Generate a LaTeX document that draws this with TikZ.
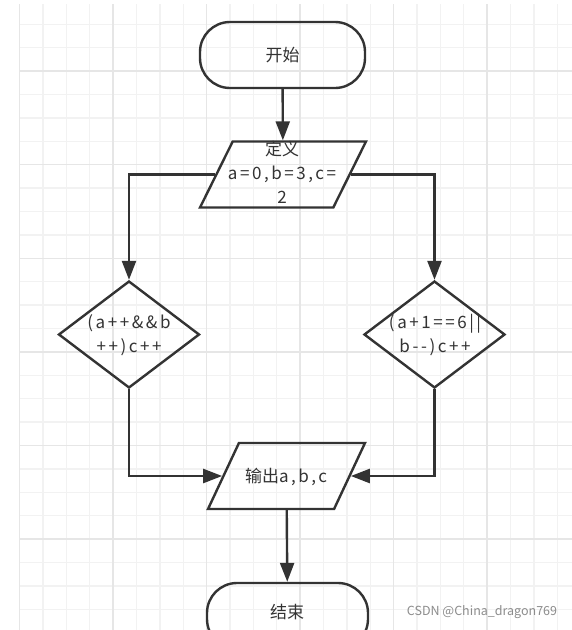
\documentclass[tikz,border=0pt]{standalone}
\usepackage{fontspec}
\newfontfamily\cjk{Noto Sans CJK SC}
\newfontfamily\lat[LetterSpace=15]{Noto Sans CJK SC}
\usetikzlibrary{shapes.geometric,arrows.meta,positioning}
\definecolor{ink}{HTML}{333333}
\definecolor{gridminor}{HTML}{F2F2F2}
\definecolor{gridmajor}{HTML}{E6E6E6}
\definecolor{markgrey}{HTML}{8C8C8C}
\begin{document}
\begin{tikzpicture}[x=1pt, y=-1pt, line width=2.4pt,
  term/.style={draw=ink, rounded corners=30pt, minimum width=165pt, minimum height=66pt},
  io/.style={draw=ink, trapezium, trapezium stretches=true, trapezium left angle=72, trapezium right angle=108, minimum height=66pt},
  cond/.style={draw=ink, diamond, minimum width=141pt, minimum height=107pt, inner sep=0pt},
  txt/.style={text=ink, font=\cjk\fontsize{17}{24}\selectfont, align=center, inner sep=0pt},
  arr/.style={draw=ink, -{Triangle[length=19pt,width=14pt]}}]
  \fill[white] (0,0) rectangle (572,630);
  \useasboundingbox (0,0) rectangle (572,630);
  % 背景网格
  \foreach \i in {0,...,23} \draw[gridminor, line width=1.4pt] (19.6+23.375*\i,4) -- (19.6+23.375*\i,630);
  \foreach \j in {1,...,26} \draw[gridminor, line width=1.4pt] (19.6,0.8+23.4*\j) -- (572,0.8+23.4*\j);
  \foreach \i in {0,4,...,20} \draw[gridmajor, line width=1.4pt] (19.6+23.375*\i,4) -- (19.6+23.375*\i,630);
  \foreach \j in {3,7,...,23} \draw[gridmajor, line width=1.4pt] (19.6,0.8+23.4*\j) -- (572,0.8+23.4*\j);
  % 框
  \node[term] (start) at (282.5,55) {};
  \node[io, minimum width=166pt] (def) at (283,174.5) {};
  \node[cond] (cond1) at (129,334.5) {};
  \node[cond] (cond2) at (434.5,334.5) {};
  \node[io, minimum width=157pt] (out) at (286.5,476) {};
  \node[term, minimum width=161pt] (end) at (287.5,616) {};
  \node[txt] (starttext) at (start) {开始};
  \node[txt] (deftext) at (282,172) {定义\\{\lat a=0,b=3,c=}\\{\lat 2}};
  \node[txt, font=\lat\fontsize{17}{24}\selectfont] (cond1text) at (129,335.5) {(a++\&\&b\\++)c++};
  \node[txt, font=\lat\fontsize{17}{24}\selectfont] (cond2text) at (435,335.5) {(a+1==6||\\b--)c++};
  \node[txt] (outtext) at (286,477) {输出{\lat a,b,c}};
  \node[txt] (endtext) at (287,612) {结束};
  % 连线
  \draw[arr] (start) -- (def);
  \draw[arr] (def.left side) -| (cond1.north);
  \draw[arr] (def.right side) -| (cond2.north);
  \draw[arr] (cond1.south) |- (out.left side);
  \draw[arr] (cond2.south) |- (out.right side);
  \draw[arr] (out) -- (end);
  \node[text=markgrey, font=\cjk\fontsize{12.5}{13}\selectfont] (mark) at (482,612) {CSDN @China\_dragon769};
\end{tikzpicture}
\end{document}
